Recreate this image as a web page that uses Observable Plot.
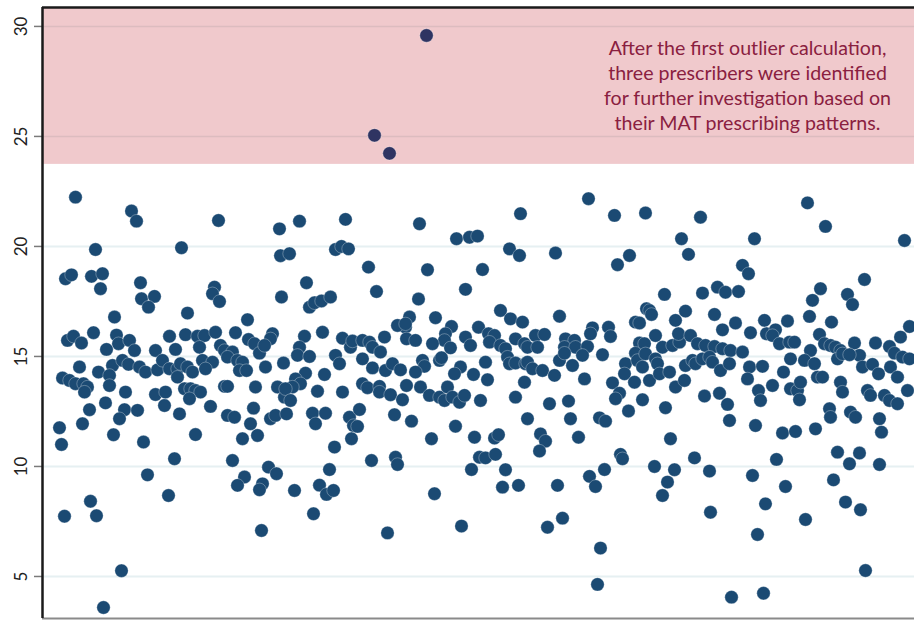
<!DOCTYPE html>
<html>
<head>
<meta charset="utf-8">
<script src="https://cdn.jsdelivr.net/npm/d3@7"></script>
<script src="https://cdn.jsdelivr.net/npm/@observablehq/plot@0.6"></script>
<style>
  html, body { margin: 0; padding: 0; background: #fff; }
  #chart svg { display: block; }
</style>
</head>
<body>
<div id="chart"></div>
<script>
// Prescriber position (order along x) and MAT prescribing metric
const prescribers = [
[33,22.24],[89,21.61],[94,21.15],[53,19.86],[23,18.53],[29,18.71],[49,18.64],[60,18.76],[58,18.08],[98,18.35],[99,17.62],[112,17.73],[106,17.24],[72,16.79],[51,16.08],[25,15.73],[31,15.92],[39,15.61],[74,15.97],[76,15.58],[87,15.73],[92,15.27],[64,15.32],[70,14.59],[80,14.82],[86,14.64],[113,15.27],[37,14.52],[56,14.29],[20,14.02],[27,13.91],[33,13.76],[41,13.76],[45,13.61],[42,13.38],[67,14.14],[67,13.68],[83,13.38],[97,14.52],[103,14.29],[115,14.39],[113,13.27],[122,12.77],[47,12.58],[63,12.89],[82,12.58],[77,12.17],[95,12.55],[40,11.94],[17,11.76],[19,11.00],[71,11.44],[101,11.11],[105,9.62],[48,8.42],[22,7.74],[54,7.76],[79,5.26],[61,3.59],[123,13.38],[120,14.82],
[176,21.18],[237,20.80],[139,19.94],[238,19.58],[172,18.15],[170,17.85],[177,17.50],[239,17.70],[145,16.97],[205,16.67],[127,15.92],[143,15.99],[133,15.32],[155,15.92],[162,15.95],[173,16.10],[157,15.42],[178,15.50],[193,16.08],[206,15.77],[212,15.58],[230,16.03],[228,15.80],[217,15.15],[222,15.50],[182,15.27],[190,15.20],[185,14.97],[195,14.82],[200,14.74],[197,14.36],[204,14.36],[223,14.52],[241,14.70],[127,14.44],[135,14.44],[138,14.67],[145,14.52],[150,14.29],[135,14.06],[160,14.82],[170,14.74],[163,14.44],[142,13.53],[148,13.53],[153,13.45],[158,13.38],[147,13.08],[182,13.64],[185,13.64],[213,13.61],[235,13.61],[242,13.15],[137,12.39],[168,12.73],[185,12.32],[192,12.24],[211,12.65],[208,11.94],[215,11.41],[200,11.26],[228,12.17],[233,12.32],[244,12.39],[153,11.45],[132,10.35],[190,10.27],[226,9.97],[234,9.67],[202,9.52],[195,9.14],[220,9.21],[217,8.94],[126,8.68],[219,7.09],
[257,21.15],[303,21.23],[247,19.67],[293,19.86],[299,20.00],[306,19.89],[326,19.06],[334,17.95],[264,18.35],[267,17.24],[272,17.44],[279,17.52],[288,17.70],[280,16.10],[262,15.92],[257,15.42],[255,15.05],[267,15.00],[300,15.83],[308,15.42],[310,15.70],[320,15.73],[327,15.65],[330,15.42],[342,15.88],[338,15.20],[293,15.05],[297,14.67],[320,14.89],[330,14.48],[343,14.36],[350,14.67],[358,14.39],[363,16.33],[355,16.41],[364,15.80],[282,14.18],[263,14.24],[253,13.98],[258,13.76],[250,13.61],[243,13.53],[248,13.00],[275,13.42],[300,13.38],[320,13.76],[325,13.58],[337,13.64],[337,13.38],[348,13.26],[360,13.03],[364,13.68],[270,12.42],[273,11.94],[283,12.42],[307,12.24],[311,11.86],[315,11.82],[317,12.59],[309,11.26],[292,10.88],[352,12.35],[287,9.86],[277,9.15],[284,8.73],[291,8.91],[252,8.91],[271,7.85],[329,10.27],[353,10.42],[355,10.09],[345,6.98],
[377,21.03],[414,20.35],[427,20.42],[435,20.47],[467,19.89],[477,19.59],[478,21.49],[385,18.94],[440,18.95],[423,18.05],[376,17.61],[367,16.79],[363,16.48],[393,16.76],[373,15.73],[409,16.36],[403,16.03],[402,15.73],[390,15.58],[408,15.39],[423,15.88],[428,15.50],[436,16.33],[446,16.03],[452,15.95],[447,15.65],[458,17.09],[468,16.71],[480,16.56],[473,15.80],[458,15.50],[463,15.35],[465,14.97],[467,14.67],[473,14.70],[482,15.58],[483,14.67],[380,14.82],[382,14.55],[373,14.29],[397,14.82],[399,14.94],[418,14.52],[412,14.21],[431,14.18],[443,14.74],[445,13.94],[378,13.61],[387,13.23],[397,13.15],[402,13.00],[405,13.61],[410,13.15],[417,12.92],[422,13.23],[438,13.00],[473,13.15],[482,13.83],[369,12.06],[413,11.83],[389,11.26],[432,11.33],[452,11.29],[456,11.44],[437,10.42],[443,10.39],[453,10.55],[429,9.86],[463,9.85],[460,9.06],[476,9.14],[392,8.76],[419,7.29],[485,12.17],
[546,22.17],[572,21.41],[603,21.52],[513,19.70],[575,19.17],[587,19.59],[517,16.83],[493,15.95],[502,16.00],[485,15.42],[495,15.42],[523,15.80],[532,15.73],[522,15.42],[533,15.42],[545,15.45],[540,15.05],[517,14.82],[522,15.15],[530,14.59],[550,16.30],[548,16.03],[566,16.33],[568,15.91],[560,15.08],[593,16.56],[597,16.52],[597,15.61],[593,15.15],[583,14.67],[595,14.82],[600,14.52],[582,14.21],[592,13.83],[604,17.17],[485,14.74],[490,14.44],[500,14.36],[512,14.14],[542,13.98],[570,13.80],[577,13.33],[573,13.08],[600,13.03],[586,12.52],[507,12.85],[526,12.97],[528,12.17],[557,12.21],[563,12.06],[498,11.48],[503,11.15],[497,10.70],[536,11.33],[578,10.55],[580,10.35],[562,9.86],[547,9.55],[553,9.09],[515,9.14],[520,7.65],[505,7.24],[558,6.29],[555,4.64],
[658,21.33],[639,20.35],[646,19.64],[712,20.35],[700,19.14],[706,18.76],[622,17.82],[660,17.88],[675,18.15],[683,17.92],[696,17.95],[607,17.09],[609,16.91],[633,16.64],[643,17.06],[672,16.91],[680,16.21],[693,16.52],[708,16.08],[722,16.64],[724,16.03],[613,15.95],[620,15.42],[630,15.50],[637,15.65],[636,16.03],[648,15.95],[655,15.58],[663,15.50],[672,15.45],[680,15.35],[688,15.27],[700,15.20],[602,15.58],[603,15.12],[613,14.89],[615,14.67],[607,13.91],[617,14.21],[627,14.29],[633,13.61],[642,13.91],[643,14.59],[650,14.82],[653,14.67],[660,14.89],[667,14.97],[670,14.74],[678,14.36],[687,14.67],[707,14.52],[705,13.98],[720,14.55],[716,13.45],[718,13.00],[662,13.20],[677,13.33],[685,12.82],[623,12.67],[687,12.09],[713,11.86],[628,11.26],[652,10.39],[612,10.00],[632,9.85],[625,9.29],[620,8.68],[667,9.79],[710,9.59],[723,8.30],[668,7.92],[715,6.91],[689,4.06],[721,4.24],
[765,21.98],[783,20.91],[862,20.27],[822,18.50],[778,18.08],[770,17.55],[805,17.82],[810,17.36],[767,16.82],[789,16.56],[733,16.21],[745,16.61],[730,15.95],[737,15.58],[747,15.65],[752,15.65],[777,16.00],[782,15.58],[788,15.50],[793,15.42],[798,15.27],[812,15.61],[817,15.05],[833,15.61],[847,15.45],[852,15.15],[858,15.88],[867,16.36],[860,14.97],[867,14.89],[768,15.27],[762,14.82],[772,14.67],[748,14.89],[741,14.29],[730,13.68],[748,13.53],[755,13.45],[757,13.03],[758,13.83],[775,14.06],[780,14.06],[795,14.89],[800,15.12],[807,15.08],[820,14.52],[830,14.64],[836,14.21],[848,14.52],[855,14.06],[798,13.83],[800,13.38],[825,13.45],[828,13.23],[842,13.23],[847,13.00],[855,12.85],[865,13.45],[787,12.62],[788,12.24],[808,12.47],[813,12.24],[837,12.17],[839,11.56],[740,11.52],[753,11.59],[773,11.71],[734,10.32],[795,10.65],[807,10.12],[817,10.61],[837,10.09],[743,9.09],[791,9.39],[803,8.38],[818,8.03],[763,7.59],[823,5.27]
];
const outliers = [[384,29.59],[332,25.05],[347,24.23]];
const threshold = 23.73;
const yTicks = [5, 10, 15, 20, 25, 30];
const gridLow = [5, 10, 15, 20];
const gridHigh = [25, 30];
const xDomain = [0, 872];
const yDomain = [3.09, 30.86];
const annotation = "After the first outlier calculation,\nthree prescribers were identified\nfor further investigation based on\ntheir MAT prescribing patterns.";

const font = "'Gill Sans', 'Gill Sans MT', Lato, 'Open Sans', sans-serif";

const chart = Plot.plot({
  width: 914,
  height: 620,
  marginLeft: 42,
  marginRight: 0,
  marginTop: 7,
  marginBottom: 2,
  style: { fontFamily: font, background: "#fff", overflow: "visible" },
  x: { domain: xDomain, axis: null },
  y: { domain: yDomain, axis: null },
  marks: [
    Plot.rectY([threshold], { x1: xDomain[0], x2: xDomain[1], y1: d => d, y2: yDomain[1], fill: "#f0c9cc" }),
    Plot.ruleY(gridLow, { stroke: "#e6f0f2", strokeWidth: 2 }),
    Plot.ruleY(gridHigh, { stroke: "#dcbcbf", strokeWidth: 1.5 }),
    Plot.axisY({ ticks: yTicks, tickSize: 8, tickRotate: -90, tickPadding: 8, stroke: "#7a7a7a", strokeWidth: 1.5, fontSize: 17, fill: "#222", tickFormat: d => String(d), label: null }),
    Plot.dot(prescribers, { x: d => d[0], y: d => d[1], r: 6.7, fill: "#1b4a73", stroke: "#ffffff", strokeWidth: 0.6, strokeOpacity: 0.5 }),
    Plot.dot(outliers, { x: d => d[0], y: d => d[1], r: 6.7, fill: "#2f3462", stroke: "#ffffff", strokeWidth: 0.6, strokeOpacity: 0.5 }),
    Plot.ruleY([yDomain[1]], { stroke: "#1a1a1a", strokeWidth: 2.5 }),
    Plot.ruleY([yDomain[0]], { stroke: "#8a8a8a", strokeWidth: 2 }),
    Plot.ruleX([xDomain[0]], { stroke: "#1a1a1a", strokeWidth: 2.5 }),
    Plot.text([annotation], { frameAnchor: "top-right", textAnchor: "middle", lineAnchor: "middle", dx: -167, dy: 77, fontSize: 19.6, lineHeight: 1.28, fill: "#8a2040" })
  ]
});
document.getElementById("chart").appendChild(chart);
</script>
</body>
</html>
